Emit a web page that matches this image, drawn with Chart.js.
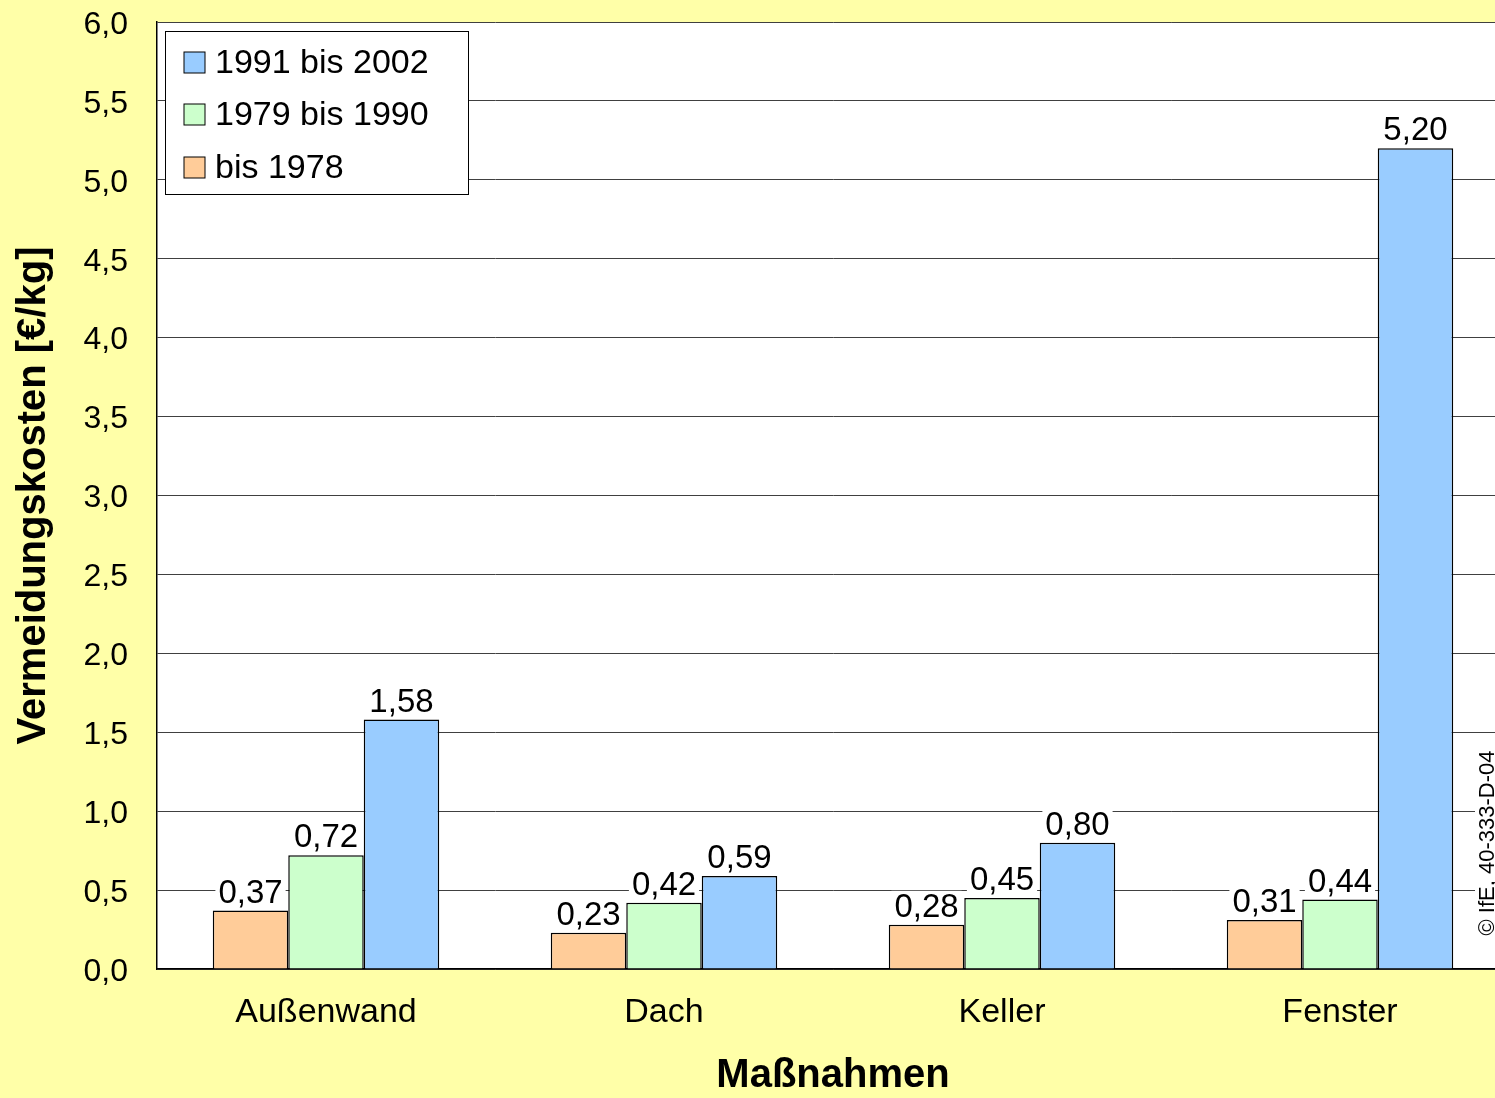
<!DOCTYPE html>
<html>
<head>
<meta charset="utf-8">
<script src="https://cdn.jsdelivr.net/npm/chart.js@4.4.1/dist/chart.umd.min.js"></script>
<style>
  html, body { margin: 0; padding: 0; background: #FFFFA8; overflow: hidden; }
  #wrap { width: 1495px; height: 1098px; overflow: hidden; position: relative; }
  canvas { position: absolute; left: 0; top: 0; }
</style>
</head>
<body>
<div id="wrap"><canvas id="chart" width="1512" height="1098"></canvas></div>
<script>
// ---- data ----
const categories = ['Außenwand', 'Dach', 'Keller', 'Fenster'];
const seriesNames = ['bis 1978', '1979 bis 1990', '1991 bis 2002'];
const bis1978 = [0.37, 0.23, 0.28, 0.31];
const bis1990 = [0.72, 0.42, 0.45, 0.44];
const bis2002 = [1.58, 0.59, 0.80, 5.20];
const seriesColors = ['#FFCC99', '#CCFFCC', '#99CCFF'];
const yTitle = 'Vermeidungskosten [€/kg]';
const xTitle = 'Maßnahmen';
const copyright = '© IfE, 40-333-D-04';

const FONT = "'Liberation Sans', Arial, sans-serif";
const fmt = v => v.toFixed(2).replace('.', ',');

// ---- plugins ----
const background = {
    id: 'background',
    beforeDraw(chart) {
        const { ctx, chartArea: a } = chart;
        ctx.save();
        ctx.fillStyle = '#FFFFA8';
        ctx.fillRect(0, 0, chart.width, chart.height);
        ctx.fillStyle = '#FFFFFF';
        ctx.fillRect(a.left, a.top, a.right - a.left, a.bottom - a.top);
        ctx.restore();
    }
};

const extras = {
    id: 'extras',
    afterDatasetsDraw(chart) {
        const ctx = chart.ctx;
        ctx.save();
        // value labels with white background
        ctx.font = '33px ' + FONT;
        ctx.textAlign = 'center';
        ctx.textBaseline = 'alphabetic';
        chart.data.datasets.forEach((ds, i) => {
            chart.getDatasetMeta(i).data.forEach((bar, j) => {
                const txt = fmt(ds.data[j]);
                const w = ctx.measureText(txt).width;
                ctx.fillStyle = '#FFFFFF';
                ctx.fillRect(bar.x - w / 2 - 3, bar.y - 34, w + 6, 32);
                ctx.fillStyle = '#000000';
                ctx.fillText(txt, bar.x, bar.y - 8);
            });
        });

        // legend box inside plot, reverse order
        ctx.fillStyle = '#FFFFFF';
        ctx.fillRect(165.5, 31.5, 303, 163);
        ctx.strokeStyle = '#000000';
        ctx.lineWidth = 1;
        ctx.strokeRect(165.5, 31.5, 303, 163);
        ctx.font = '34px ' + FONT;
        ctx.textAlign = 'left';
        ctx.textBaseline = 'middle';
        const rows = [63, 115, 168];
        [2, 1, 0].forEach((k, r) => {
            ctx.fillStyle = seriesColors[k];
            ctx.fillRect(184, rows[r] - 11, 21, 21);
            ctx.strokeRect(184, rows[r] - 11, 21, 21);
            ctx.fillStyle = '#000000';
            ctx.fillText(seriesNames[k], 215, rows[r] + 1);
        });

        // copyright, rotated, on white
        ctx.translate(1487, 843);
        ctx.rotate(-Math.PI / 2);
        ctx.font = '22px ' + FONT;
        ctx.textAlign = 'center';
        ctx.textBaseline = 'middle';
        const cw = ctx.measureText(copyright).width;
        ctx.fillStyle = '#FFFFFF';
        ctx.fillRect(-cw / 2 - 4, -12, cw + 8, 24);
        ctx.fillStyle = '#000000';
        ctx.fillText(copyright, 0, 1);
        ctx.restore();
    }
};

// ---- chart ----
new Chart(document.getElementById('chart'), {
    type: 'bar',
    data: {
        labels: categories,
        datasets: [bis1978, bis1990, bis2002].map((d, i) => ({
            label: seriesNames[i],
            data: d,
            backgroundColor: seriesColors[i],
            borderColor: '#000000',
            borderWidth: 1.5,
            borderSkipped: 'bottom',
            categoryPercentage: 0.67,
            barPercentage: 1.0
        }))
    },
    options: {
        responsive: false,
        animation: false,
        layout: { padding: { left: 0, top: 22, right: 3, bottom: 0 } },
        plugins: { legend: { display: false }, tooltip: { enabled: false } },
        scales: {
            x: {
                grid: { display: false, drawTicks: false },
                border: { color: '#000000', width: 1.5 },
                ticks: { color: '#000000', padding: 23, font: { family: FONT, size: 34 } },
                title: {
                    display: true, text: xTitle, color: '#000000',
                    font: { family: FONT, size: 40, weight: 'bold' },
                    padding: { top: 0, bottom: -2 }
                },
                afterFit(scale) {
                    scale.height = 129;
                    scale.paddingLeft = 0;
                    scale.paddingRight = 0;
                }
            },
            y: {
                min: 0, max: 6,
                grid: { color: '#404040', lineWidth: 1, drawTicks: false },
                border: { color: '#000000', width: 1.5 },
                ticks: {
                    stepSize: 0.5, color: '#000000', padding: 29, labelOffset: 3,
                    font: { family: FONT, size: 32 },
                    callback: v => v.toFixed(1).replace('.', ',')
                },
                title: {
                    display: true, text: yTitle, color: '#000000',
                    font: { family: FONT, size: 40, weight: 'bold' },
                    padding: { top: 10, bottom: 0 }
                },
                afterFit(scale) {
                    scale.width = 157;
                    scale.paddingTop = 0;
                    scale.paddingBottom = 0;
                }
            }
        }
    },
    plugins: [background, extras]
});
</script>
</body>
</html>
